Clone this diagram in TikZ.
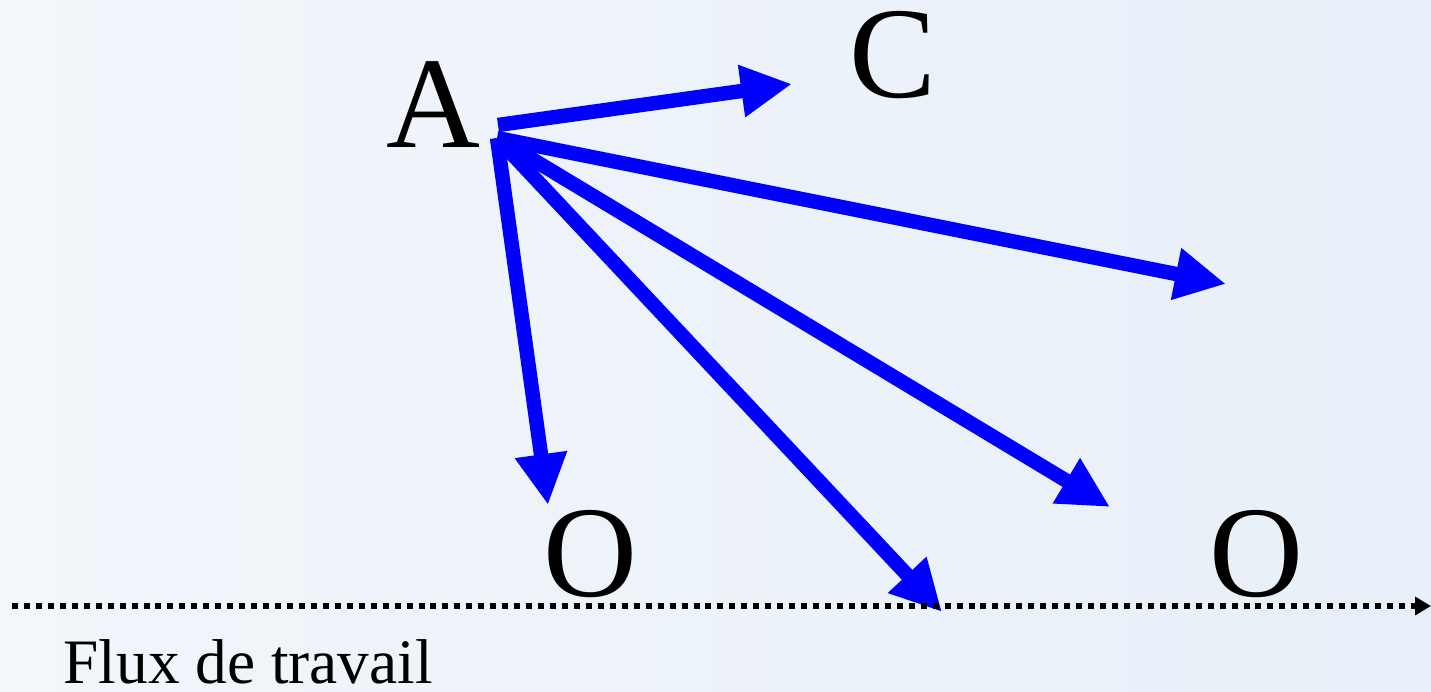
\documentclass[tikz,border=0pt]{standalone}
\usepackage{fontspec}
\setmainfont{Liberation Serif}
\usetikzlibrary{arrows.meta}
\definecolor{bgleft}{HTML}{F3F6FB}
\definecolor{bgright}{HTML}{E7EFF8}
\tikzset{
  flow/.style={line width=4.1pt, color=blue, -{Triangle[length=14.5pt, width=14pt]}},
  letter/.style={anchor=base, inner sep=0pt, font=\fontsize{37}{40}\selectfont},
}

\begin{document}
\begin{tikzpicture}[x=0.01cm, y=-0.01cm]
			%%%%% START %%%%%
			
			\useasboundingbox (0, 0) rectangle (1431, 692);
			\shade[left color=bgleft, right color=bgright] (0, 0) rectangle (1431, 692);
			
			\node[letter] (a) at (433, 148) {A};
			\node[letter] (c) at (893, 98) {C};
			\node[letter] (o1) at (590, 597) {O};
			\node[letter] (o2) at (1256, 597) {O};
			\node[anchor=base west, inner sep=0pt, font=\fontsize{18}{20}\selectfont] (flux) at (63, 683) {Flux de travail};
			
			\coordinate (s1) at (498, 125);
			\coordinate (s2) at (497, 138);
			\coordinate (e1) at (792, 84);
			\coordinate (e2) at (1226, 284);
			\coordinate (e3) at (1110, 507);
			\coordinate (e4) at (942, 612);
			\coordinate (e5) at (548, 505);
			
			\draw[flow] (s1) -- (e1);
			\draw[flow] (s2) -- (e2);
			\draw[flow] (s2) -- (e3);
			\draw[flow] (s2) -- (e4);
			\draw[flow] (s2) -- (e5);
			
			% workflow axis
			\coordinate (w0) at (12, 606);
			\coordinate (w1) at (1431, 606);
			\draw[line width=1.7pt, dash pattern=on 1.7pt off 1.7pt, -{Triangle[length=4.5pt, width=5pt]}] (w0) -- (w1);
			
			%%%%% END %%%%%
\end{tikzpicture}
\end{document}
